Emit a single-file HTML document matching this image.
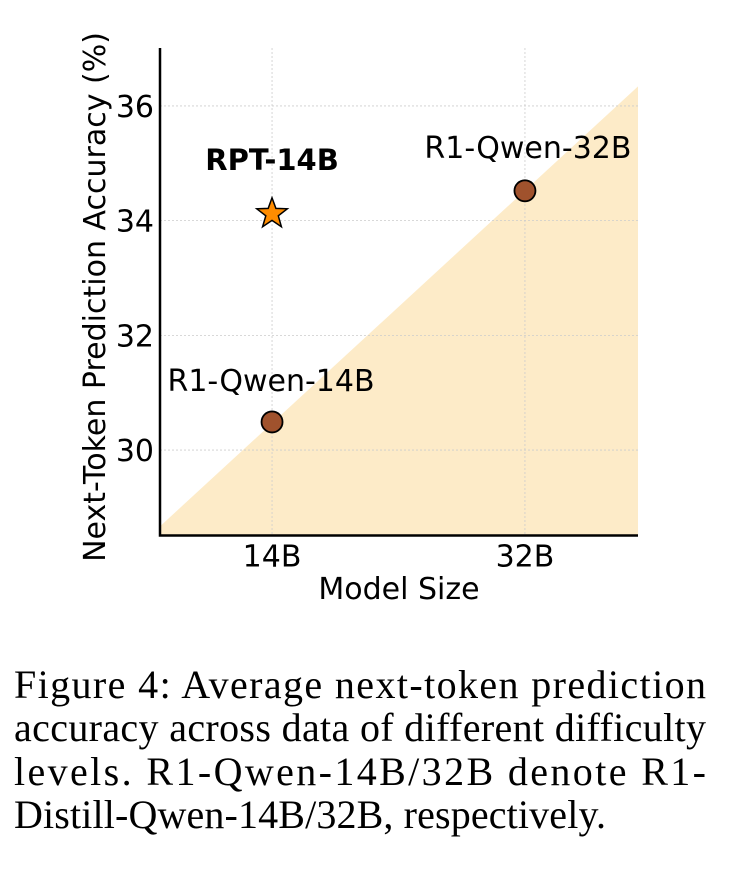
<!DOCTYPE html>
<html><head><meta charset="utf-8"><style>
body{margin:0;background:#fff;width:736px;height:884px;overflow:hidden}
#chart text{font-family:"DejaVu Sans","Liberation Sans",sans-serif}
#caption text{font-family:"Liberation Serif",serif;font-size:40px}
</style></head><body>
<svg id="chart" width="736" height="640" style="position:absolute;left:0;top:0"></svg>
<svg id="caption" width="736" height="244" style="position:absolute;left:0;top:640px">
<text x="14" y="58" textLength="692" lengthAdjust="spacing">Figure 4:  Average next-token prediction</text>
<text x="14" y="101" textLength="692" lengthAdjust="spacing">accuracy across data of different difficulty</text>
<text x="14" y="145" textLength="692" lengthAdjust="spacing">levels.   R1-Qwen-14B/32B denote R1-</text>
<text x="14" y="188" textLength="592" lengthAdjust="spacing">Distill-Qwen-14B/32B, respectively.</text>
</svg>
<script>
const categories=["14B","32B"];
const yTicks=[30,32,34,36];
const baselineNames=["R1-Qwen-14B","R1-Qwen-32B"];
const baselineValues=[30.49,34.52];
const rptName="RPT-14B";
const rptValue=34.12;
const shadeValues=[28.67,36.34];
const NS="http://www.w3.org/2000/svg";
const svg=document.getElementById('chart');
const L=160,R=638,T=48,B=535.5;
const xMin=-0.443,xMax=1.447,yMin=28.51,yMax=37.01;
const xs=v=>L+(v-xMin)/(xMax-xMin)*(R-L);
const ys=v=>B-(v-yMin)/(yMax-yMin)*(B-T);
function mk(tag,attrs,txt){const e=document.createElementNS(NS,tag);for(const k in attrs)e.setAttribute(k,attrs[k]);if(txt!==undefined)e.textContent=txt;svg.appendChild(e);return e;}
let sh=mk('polygon',{points:`${L},${ys(shadeValues[0])} ${R},${ys(shadeValues[1])} ${R},${B} ${L},${B}`,fill:'#fdebc8'});


yTicks.forEach(t=>{
 let g=mk('line',{x1:L,x2:R,y1:ys(t),y2:ys(t),stroke:'#ccc','stroke-width':0.8,'stroke-dasharray':'2,2'});
 
 
 let tx=mk('text',{x:L-6,y:ys(t)+11,'text-anchor':'end','font-size':30},String(t));
 
 
});
categories.forEach((c,i)=>{
 let g=mk('line',{x1:xs(i),x2:xs(i),y1:T,y2:B,stroke:'#ccc','stroke-width':0.8,'stroke-dasharray':'2,2'});
 
 
 let tx=mk('text',{x:xs(i),y:B+31,'text-anchor':'middle','font-size':30},c);
 
 
});
let ax=mk('path',{d:`M${L},${T} L${L},${B} L${R},${B}`,fill:'none',stroke:'#000','stroke-width':2.5});


baselineValues.forEach((v,i)=>{
 let c=mk('circle',{cx:xs(i),cy:ys(v),r:10.5,fill:'#a0522d',stroke:'#000','stroke-width':1.8});
 
 
 let t=mk('text',{x:i===0?xs(i)-1:xs(i)+3,y:ys(v)-(i===0?31:33),'text-anchor':'middle','font-size':30},baselineNames[i]);
 
 
});
(function(){
 const cx=xs(0),cy=ys(rptValue),ro=16,ri=6.6;let p=[];
 for(let k=0;k<10;k++){const r=k%2?ri:ro;const a=-Math.PI/2+k*Math.PI/5;p.push((cx+r*Math.cos(a)).toFixed(1)+','+(cy+r*Math.sin(a)).toFixed(1));}
 let s=mk('polygon',{points:p.join(' '),fill:'#ff8c00',stroke:'#000','stroke-width':1.5});
 
 
 let t=mk('text',{x:cx,y:cy-44,'text-anchor':'middle','font-size':29,'font-weight':'bold'},rptName);
 
 
})();
let xl=mk('text',{x:399,y:599,'text-anchor':'middle','font-size':30},'Model Size');


let yl=mk('text',{x:0,y:0,'text-anchor':'middle','font-size':30,transform:'translate(105,297) rotate(-90)'},'Next-Token Prediction Accuracy (%)');


</script>
</body></html>
